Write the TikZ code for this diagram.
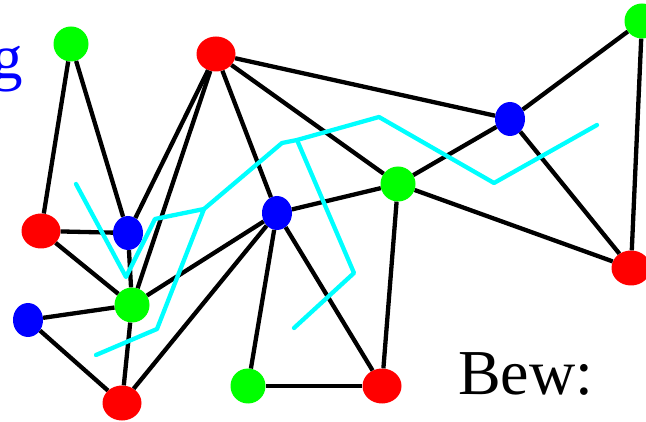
\documentclass[tikz,border=0pt]{standalone}
\usepackage{fontspec}
\setmainfont{Liberation Serif}
\usetikzlibrary{shapes.geometric}
\definecolor{tuerkis}{RGB}{0,255,255}
\definecolor{hellgruen}{RGB}{0,255,0}

\tikzset{
    vtx/.style={ellipse, inner sep=0pt, draw=none},
    rot/.style={vtx, fill=red, minimum width=39pt, minimum height=35pt},
    gruen/.style={vtx, fill=hellgruen, minimum width=35pt, minimum height=35pt},
    blau/.style={vtx, fill=blue, minimum width=30pt, minimum height=34pt},
    kante/.style={line width=4.3pt},
    weg/.style={tuerkis, line width=4.3pt, line join=round, line cap=round}
}

\begin{document}
\begin{tikzpicture}[x=1pt,y=-1pt]
    \useasboundingbox (0,0) rectangle (646,422);

    % vertices
    \node[gruen] (g1) at (71,44) {};
    \node[rot] (r1) at (216,54) {};
    \node[gruen] (g2) at (642,21) {};
    \node[blau] (b1) at (510,119) {};
    \node[gruen] (g3) at (398,184) {};
    \node[blau] (b2) at (277,213) {};
    \node[rot] (r2) at (41,231) {};
    \node[blau] (b3) at (128,233) {};
    \node[rot] (r5) at (631,268) {};
    \node[gruen] (g4) at (132,305) {};
    \node[blau] (b4) at (28,320) {};
    \node[gruen] (g5) at (248,386) {};
    \node[rot] (r4) at (382,386) {};
    \node[rot] (r3) at (122,403) {};

    % edges
    \foreach \a/\b in {g1/r2, g1/b3, r1/b3, r1/g4, r1/b2, r1/g3, r1/b1,
        b1/g2, b1/g3, b1/r5, g2/r5, g3/b2, g3/r5, g3/r4, b2/g4, b2/r3,
        b2/g5, b2/r4, g5/r4, r2/b3, r2/g4, b3/g4, b4/g4, b4/r3, g4/r3}
        \draw[kante] (\a) -- (\b);

    % path
    \draw[weg] (76,184) -- (126,277) -- (155,219) -- (204,209) -- (157,329) -- (96,355);
    \draw[weg] (204,209) -- (282,143) -- (297,140) -- (379,117) -- (494,183) -- (597,125);
    \draw[weg] (297,140) -- (354,273) -- (294,328);

    % labels
    \node[anchor=base east, inner sep=0pt, blue, font=\fontsize{63}{70}\selectfont] (titel) at (23,79) {g};
    \node[anchor=base west, inner sep=0pt, font=\fontsize{64}{70}\selectfont] (bew) at (458,395) {Bew:};
\end{tikzpicture}
\end{document}
